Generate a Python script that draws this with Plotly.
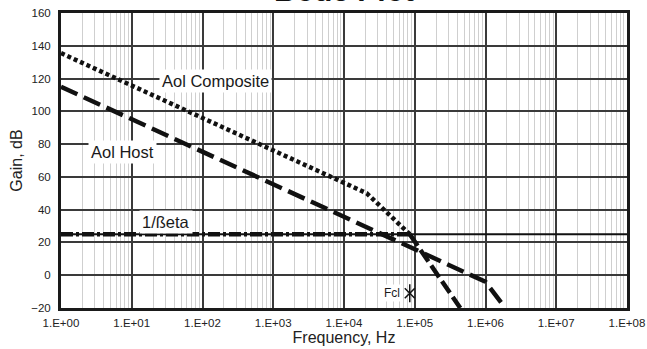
import math
import plotly.graph_objects as go

# ---- data ----
host_freq = [1, 1e6, 1.9e6]
host_db = [115, -4, -20]

comp_freq = [1, 2.1e4, 8.5e4]
comp_db = [135.5, 50, 25]

cl_freq = [1, 8.5e4]
cl_db = [25, 25]

roll_freq = [8.5e4, 4.4e5]
roll_db = [25, -20]

beta_freq = [1, 1e8]
beta_db = [25, 25]

fcl_freq = [8.5e4]
fcl_db = [-11]

label_text = ["Aol Composite", "Aol Host", "1/\u00dfeta"]
label_freq = [155, 7.5, 30.5]
label_db = [118.6, 75.2, 32.6]

x_tickvals = [10 ** k for k in range(0, 9)]
x_ticktext = ["1.E+%02d" % k for k in range(0, 9)]
x_minor = [m * 10 ** k for k in range(0, 8) for m in range(2, 10)]
y_tickvals = list(range(-20, 161, 20))

FONT = "Liberation Sans, Arial, sans-serif"
BLACK = "#111111"

fig = go.Figure()

fig.add_trace(go.Scatter(x=beta_freq, y=beta_db, mode="lines",
                         line=dict(color=BLACK, width=2.2), hoverinfo="skip"))
fig.add_trace(go.Scatter(x=cl_freq, y=cl_db, mode="lines",
                         line=dict(color=BLACK, width=4.5, dash="12px,3px,3px,3px"),
                         hoverinfo="skip"))
fig.add_trace(go.Scatter(x=roll_freq, y=roll_db, mode="lines",
                         line=dict(color=BLACK, width=4.5, dash="14px,5px"),
                         hoverinfo="skip"))
fig.add_trace(go.Scatter(x=host_freq, y=host_db, mode="lines",
                         line=dict(color=BLACK, width=4.5, dash="18px,7px"),
                         hoverinfo="skip"))
fig.add_trace(go.Scatter(x=comp_freq, y=comp_db, mode="lines",
                         line=dict(color=BLACK, width=4.5, dash="4px,3px"),
                         hoverinfo="skip"))
fig.add_trace(go.Scatter(x=fcl_freq, y=fcl_db, mode="markers",
                         marker=dict(symbol="x-thin-open", size=10, color=BLACK,
                                     line=dict(color=BLACK, width=1.5)),
                         hoverinfo="skip"))
fig.add_trace(go.Scatter(x=fcl_freq, y=fcl_db, mode="markers",
                         marker=dict(symbol="line-ns-open", size=13, color=BLACK,
                                     line=dict(color=BLACK, width=1.5)),
                         hoverinfo="skip"))

for t, fx, fy in zip(label_text, label_freq, label_db):
    fig.add_annotation(x=math.log10(fx), y=fy, xref="x", yref="y", text=t,
                       showarrow=False, xanchor="center", yanchor="middle",
                       font=dict(family=FONT, size=16.5, color="#1a1a1a"),
                       bgcolor="white", borderpad=2)

fig.add_annotation(x=math.log10(fcl_freq[0]), y=fcl_db[0], xref="x", yref="y",
                   text="Fcl", showarrow=False, xanchor="right", yanchor="middle",
                   xshift=-8, font=dict(family=FONT, size=12, color="#1a1a1a"),
                   bgcolor="white", borderpad=1)

fig.add_annotation(x=0.5, y=1, xref="paper", yref="paper", text="<b>Bode Plot</b>",
                   showarrow=False, xanchor="center", yanchor="bottom", yshift=4,
                   font=dict(family=FONT, size=30, color="#111111"))

fig.update_layout(
    width=647, height=349,
    margin=dict(l=61, r=20, t=13, b=41),
    paper_bgcolor="white", plot_bgcolor="white",
    showlegend=False,
    font=dict(family=FONT, color="#222222"),
)

fig.update_xaxes(
    type="log", range=[0, 8], automargin=False,
    tickvals=x_tickvals, ticktext=x_ticktext,
    tickfont=dict(size=11.5, color="#222222"),
    ticks="outside", ticklen=2, tickcolor="rgba(0,0,0,0)",
    showgrid=True, gridcolor="#3a3a3a", gridwidth=1.6,
    minor=dict(tickvals=x_minor, showgrid=True, gridcolor="#cfcfcf", gridwidth=1.2,
               ticks=""),
    showline=True, linecolor="#1a1a1a", linewidth=3, mirror=True,
    zeroline=False,
    title=dict(text="Frequency, Hz", font=dict(size=16, color="#222222"), standoff=4),
)

fig.update_yaxes(
    range=[-20, 160], tickvals=y_tickvals, automargin=False,
    tickfont=dict(size=11.5, color="#222222"),
    ticks="outside", ticklen=5, tickcolor="rgba(0,0,0,0)",
    showgrid=True, gridcolor="#3a3a3a", gridwidth=1.6,
    showline=True, linecolor="#1a1a1a", linewidth=3, mirror=True,
    zeroline=False,
    title=dict(text="Gain, dB", font=dict(size=16, color="#222222"), standoff=5),
)

fig.write_html("out.html", config={"displayModeBar": False},
               post_script="document.body.style.margin='0';document.body.style.padding='0';")
